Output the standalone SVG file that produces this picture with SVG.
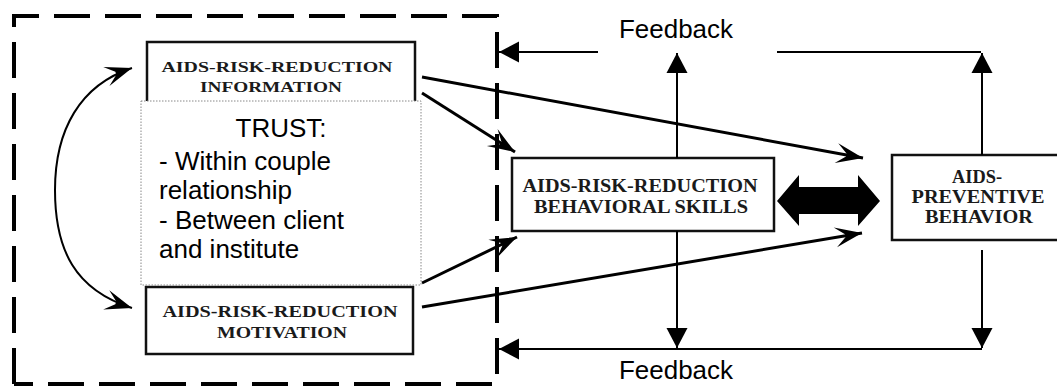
<svg xmlns="http://www.w3.org/2000/svg" width="1057" height="386" viewBox="0 0 1057 386">
<style>
.box{fill:#fff;stroke:#111;stroke-width:2.5}
.bt{font-family:"Liberation Serif","DejaVu Serif",serif;font-weight:bold;fill:#1a1a1a;text-anchor:middle}
.st{font-family:"Liberation Sans",Arial,sans-serif;fill:#000}
.thick{fill:none;stroke:#000;stroke-width:3}
.thin{fill:none;stroke:#000;stroke-width:2}
</style>
<defs>
<marker id="barb" viewBox="-28 -12 30 24" refX="0" refY="0" markerWidth="30" markerHeight="24" orient="auto-start-reverse" markerUnits="userSpaceOnUse">
<path d="M0,0 L-27,-10 L-17,-1.5 L-17,1.5 L-27,10 Z" fill="#000"/>
</marker>
<marker id="tri" viewBox="-21 -11 22 22" refX="0" refY="0" markerWidth="22" markerHeight="22" orient="auto" markerUnits="userSpaceOnUse">
<path d="M0,0 L-20,-10.5 L-20,10.5 Z" fill="#000"/>
</marker>
</defs>
<rect width="1057" height="386" fill="#fff"/>
<g id="boundary">
<path d="M14,384 V16 H497 V384 H14" fill="none" stroke="#000" stroke-width="4" stroke-dasharray="36 15"/>
</g>
<g id="info">
<rect class="box" x="147" y="42" width="268" height="64"/>
<text class="bt" x="277" y="72" font-size="15" textLength="231" lengthAdjust="spacingAndGlyphs">AIDS-RISK-REDUCTION</text>
<text class="bt" x="271" y="92" font-size="15" textLength="142" lengthAdjust="spacingAndGlyphs">INFORMATION</text>
</g>
<g id="motivation">
<rect class="box" x="146" y="287" width="267" height="67"/>
<text class="bt" x="280" y="317" font-size="17" textLength="235" lengthAdjust="spacingAndGlyphs">AIDS-RISK-REDUCTION</text>
<text class="bt" x="282" y="338" font-size="17" textLength="130" lengthAdjust="spacingAndGlyphs">MOTIVATION</text>
</g>
<g id="trust">
<rect x="141" y="101" width="280" height="184" fill="#fff" stroke="#888" stroke-width="1" stroke-dasharray="1.5 1.5"/>
<text class="st" x="281" y="137" font-size="26" text-anchor="middle">TRUST:</text>
<text class="st" x="159" y="170" font-size="26">- Within couple</text>
<text class="st" x="159" y="199" font-size="26">relationship</text>
<text class="st" x="159" y="229" font-size="26">- Between client</text>
<text class="st" x="159" y="258" font-size="26">and institute</text>
</g>
<g id="skills">
<rect class="box" x="512" y="158" width="262" height="73"/>
<text class="bt" x="640" y="192" font-size="18" textLength="235" lengthAdjust="spacingAndGlyphs">AIDS-RISK-REDUCTION</text>
<text class="bt" x="641" y="213" font-size="18" textLength="214" lengthAdjust="spacingAndGlyphs">BEHAVIORAL SKILLS</text>
</g>
<g id="preventive">
<rect class="box" x="892" y="155" width="175" height="85"/>
<text class="bt" x="977" y="183" font-size="18" textLength="50" lengthAdjust="spacingAndGlyphs">AIDS-</text>
<text class="bt" x="978" y="203" font-size="18" textLength="133" lengthAdjust="spacingAndGlyphs">PREVENTIVE</text>
<text class="bt" x="979" y="223" font-size="18" textLength="108" lengthAdjust="spacingAndGlyphs">BEHAVIOR</text>
</g>
<g id="connectors">
<path class="thin" d="M132,68 C80,85 55,130 55,190 C55,250 75,290 132,308" marker-start="url(#barb)" marker-end="url(#barb)"/>
<path class="thick" d="M422,77 L863,158" marker-end="url(#barb)"/>
<path class="thick" d="M422,93 L515,152" marker-end="url(#barb)"/>
<path class="thick" d="M422,283 L517,237" marker-end="url(#barb)"/>
<path class="thick" d="M422,307 L862,233" marker-end="url(#barb)"/>
<polygon points="777,201 799,175 799,187 858,187 858,175 880,201 858,226 858,214 799,214 799,226" fill="#000"/>
<path class="thin" d="M981,52 H777 M598,52 H499" marker-end="url(#tri)"/>
<path class="thin" d="M677,158 V53" marker-end="url(#tri)"/>
<path class="thin" d="M982,155 V53" marker-end="url(#tri)"/>
<path class="thin" d="M982,349 H499" marker-end="url(#tri)"/>
<path class="thin" d="M677,231 V348" marker-end="url(#tri)"/>
<path class="thin" d="M982,250 V348" marker-end="url(#tri)"/>
</g>
<g id="labels">
<text class="st" x="619" y="38" font-size="25" textLength="114" lengthAdjust="spacingAndGlyphs">Feedback</text>
<text class="st" x="619" y="379" font-size="25" textLength="114" lengthAdjust="spacingAndGlyphs">Feedback</text>
</g>
</svg>
